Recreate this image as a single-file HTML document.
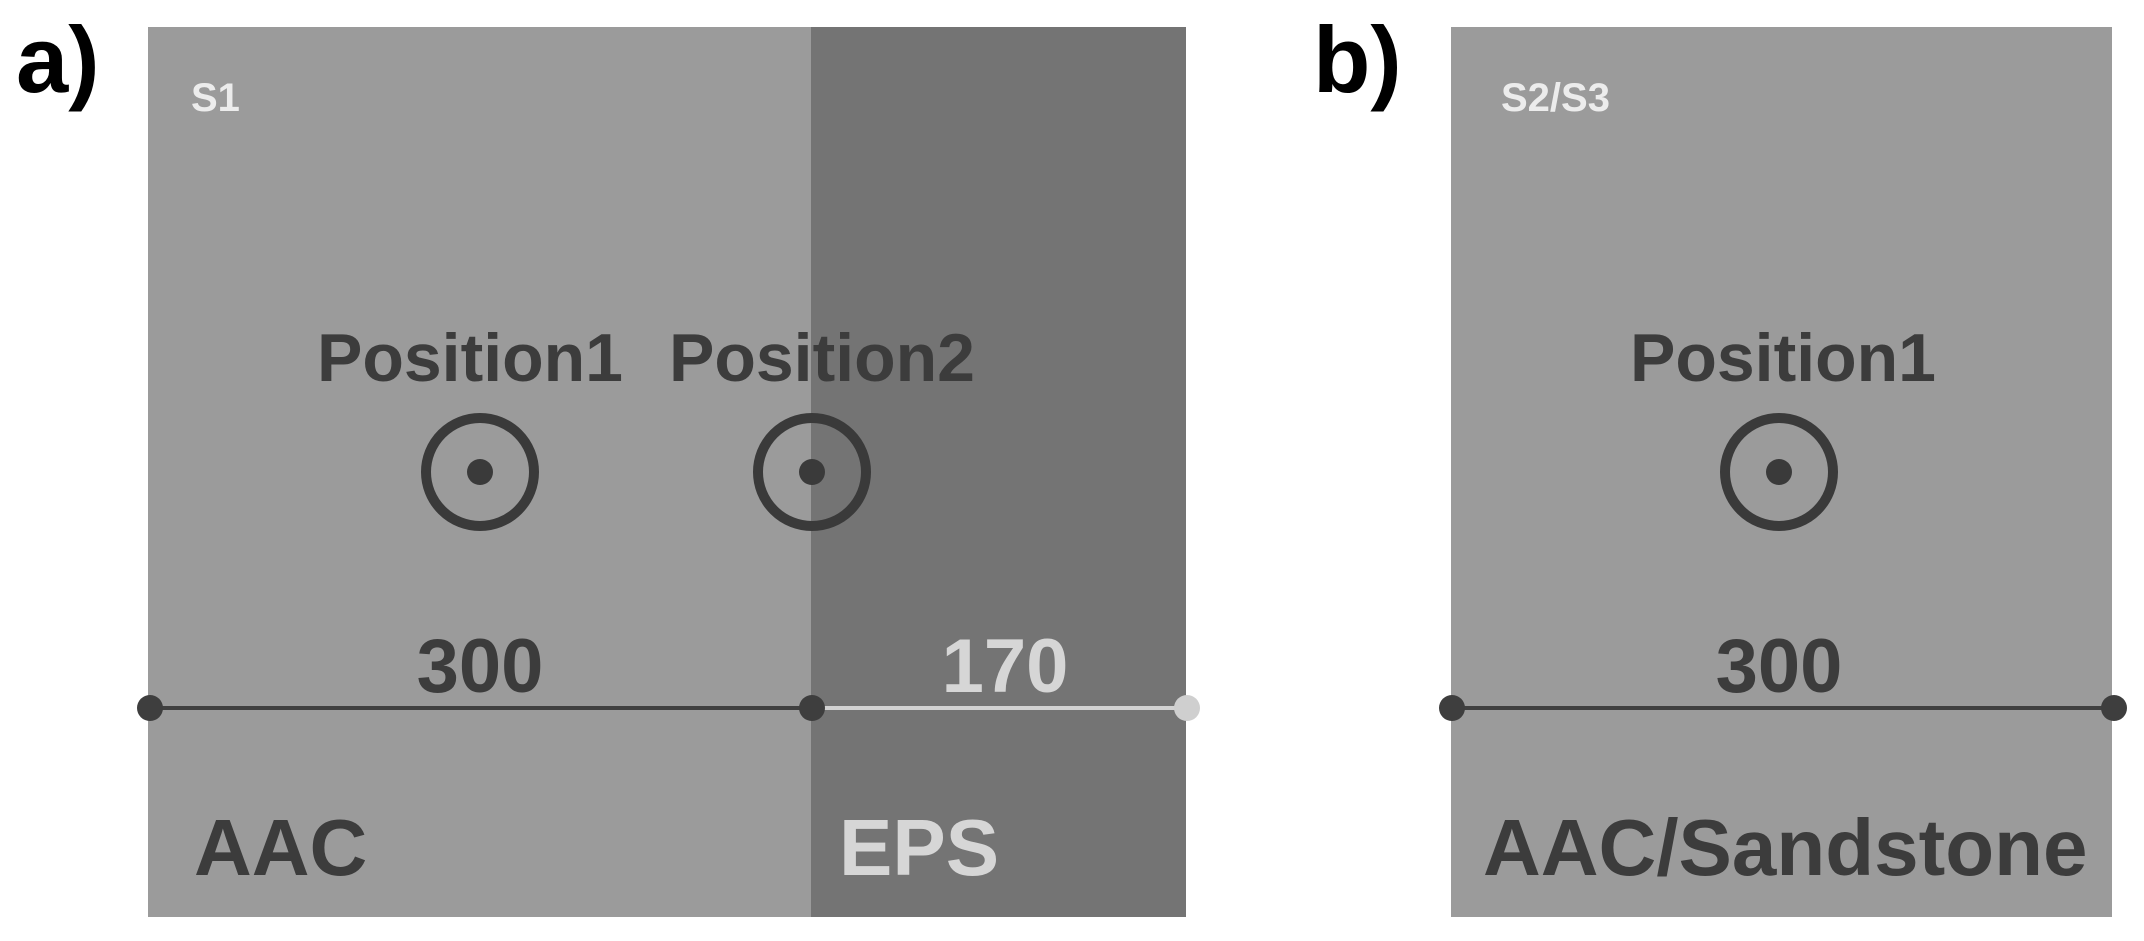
<!DOCTYPE html>
<html><head><meta charset="utf-8"><style>
html,body{margin:0;padding:0;background:#fff;}
svg{display:block}
text{font-family:"Liberation Sans",Arial,sans-serif;font-weight:bold}
</style></head><body>
<svg width="2144" height="941" viewBox="0 0 2144 941" xmlns="http://www.w3.org/2000/svg">
<rect x="0" y="0" width="2144" height="941" fill="#fff"/>
<rect x="148" y="27" width="663" height="890" fill="#9b9b9b"/>
<rect x="811" y="27" width="375" height="890" fill="#747474"/>
<rect x="1451" y="27" width="661" height="890" fill="#9b9b9b"/>

<text x="16" y="92" font-size="94" fill="#000">a)</text>
<text x="1313" y="92" font-size="94" fill="#000">b)</text>

<text x="191" y="111" font-size="40" fill="#ececec">S1</text>
<text x="1501" y="111" font-size="40" fill="#ececec">S2/S3</text>

<text x="470" y="381" font-size="68" fill="#3c3c3c" text-anchor="middle">Position1</text>
<text x="822" y="381" font-size="68" fill="#3c3c3c" text-anchor="middle">Position2</text>
<text x="1783" y="381" font-size="68" fill="#3c3c3c" text-anchor="middle">Position1</text>

<g fill="none" stroke="#3a3a3a" stroke-width="10">
<circle cx="480" cy="472" r="54"/>
<circle cx="812" cy="472" r="54"/>
<circle cx="1779" cy="472" r="54"/>
</g>
<g fill="#3a3a3a">
<circle cx="480" cy="472" r="13"/>
<circle cx="812" cy="472" r="13"/>
<circle cx="1779" cy="472" r="13"/>
</g>

<text x="480" y="692" font-size="76" fill="#3c3c3c" text-anchor="middle">300</text>
<text x="1005" y="692" font-size="76" fill="#d6d6d6" text-anchor="middle">170</text>
<text x="1779" y="692" font-size="76" fill="#3c3c3c" text-anchor="middle">300</text>

<line x1="150" y1="708" x2="812" y2="708" stroke="#404040" stroke-width="4"/>
<line x1="812" y1="708" x2="1187" y2="708" stroke="#d2d2d2" stroke-width="4"/>
<line x1="1452" y1="708" x2="2114" y2="708" stroke="#404040" stroke-width="4"/>
<circle cx="150" cy="708" r="13" fill="#3e3e3e"/>
<circle cx="812" cy="708" r="13" fill="#3e3e3e"/>
<circle cx="1187" cy="708" r="13" fill="#cfcfcf"/>
<circle cx="1452" cy="708" r="13" fill="#3e3e3e"/>
<circle cx="2114" cy="708" r="13" fill="#3e3e3e"/>

<text x="194" y="875" font-size="80" fill="#3c3c3c">AAC</text>
<text x="839" y="875" font-size="80" fill="#d6d6d6">EPS</text>
<text x="1483" y="875" font-size="80" fill="#3c3c3c">AAC/Sandstone</text>
</svg>
</body></html>
